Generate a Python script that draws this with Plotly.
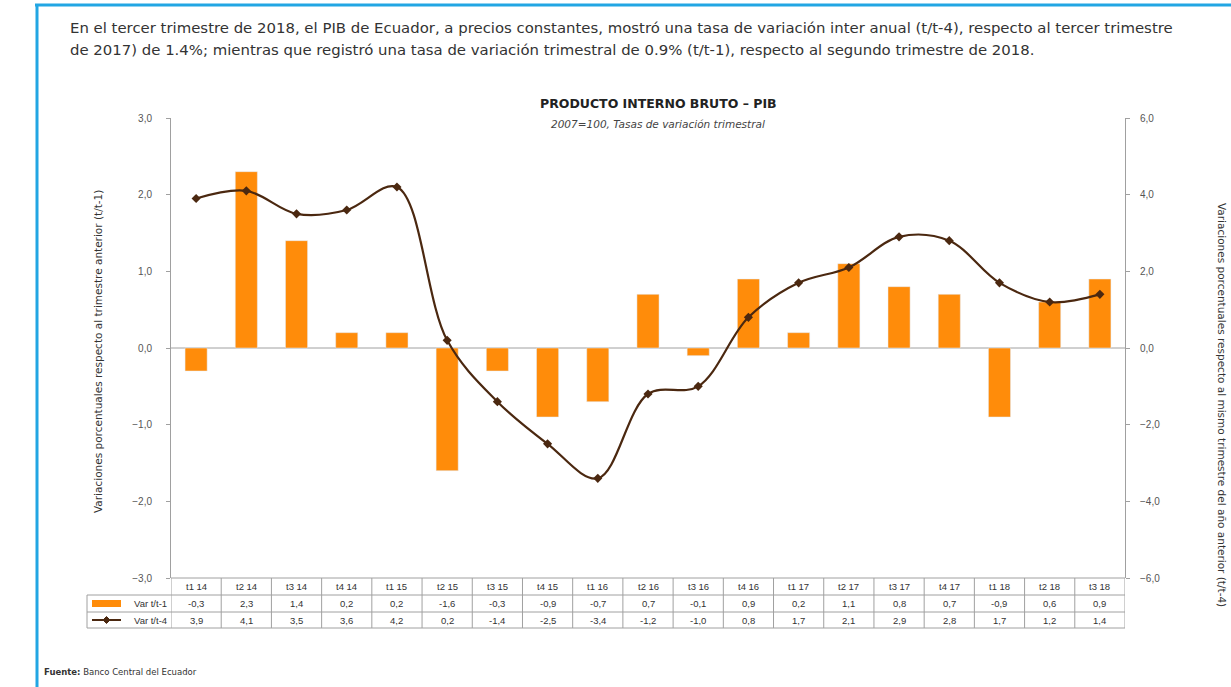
import plotly.graph_objects as go

# ---- data ----
quarters = ["t1 14", "t2 14", "t3 14", "t4 14", "t1 15", "t2 15", "t3 15", "t4 15",
            "t1 16", "t2 16", "t3 16", "t4 16", "t1 17", "t2 17", "t3 17", "t4 17",
            "t1 18", "t2 18", "t3 18"]
var_t1 = [-0.3, 2.3, 1.4, 0.2, 0.2, -1.6, -0.3, -0.9, -0.7, 0.7, -0.1, 0.9,
          0.2, 1.1, 0.8, 0.7, -0.9, 0.6, 0.9]
var_t4 = [3.9, 4.1, 3.5, 3.6, 4.2, 0.2, -1.4, -2.5, -3.4, -1.2, -1.0, 0.8,
          1.7, 2.1, 2.9, 2.8, 1.7, 1.2, 1.4]
left_ticks = [3, 2, 1, 0, -1, -2, -3]
right_ticks = [6, 4, 2, 0, -2, -4, -6]
series_names = ["Var t/t-1", "Var t/t-4"]

# ---- geometry (page pixels; body margin removed in post_script) ----
W, H = 1231, 687
PX0, PX1, PY0, PY1 = 171, 1125, 118, 578   # plot area in page pixels


def px(x):
    return (x - PX0) / (PX1 - PX0)


def py(y):
    return (PY1 - y) / (PY1 - PY0)


ORANGE = "#FF8C0A"
BROWN = "#4B2810"
GRID = "#A0A0A0"
TXT = "#333333"
FONT = "Liberation Sans, Arial, sans-serif"
WIDE = "DejaVu Sans, sans-serif"

fig = go.Figure()
fig.add_trace(go.Bar(x=quarters, y=var_t1, name=series_names[0], marker_color=ORANGE,
                     width=0.44, yaxis="y"))
fig.add_trace(go.Scatter(x=quarters, y=var_t4, name=series_names[1], yaxis="y2",
                         mode="lines+markers",
                         line=dict(color=BROWN, width=2.2, shape="spline", smoothing=1.0),
                         marker=dict(symbol="diamond", size=7, color=BROWN)))

fmt = lambda v: f"{v:.1f}".replace(".", ",")

annotations = []
shapes = []


def note(text, x, y, size, family=WIDE, color=TXT, **kw):
    d = dict(text=text, x=x, y=y, xref="paper", yref="paper", showarrow=False,
             yanchor="middle", font=dict(family=family, size=size, color=color))
    d.update(kw)
    annotations.append(d)


# Top paragraph
para = ["En el tercer trimestre de 2018, el PIB de Ecuador, a precios constantes, mostró una tasa de variación inter anual (t/t-4), respecto al tercer trimestre",
        "de 2017) de 1.4%; mientras que registró una tasa de variación trimestral de 0.9% (t/t-1), respecto al segundo trimestre de 2018."]
for i, line in enumerate(para):
    note(line, px(68), py(28 + 22 * i), 14.9, xanchor="left")

# Chart title
note("<b>PRODUCTO INTERNO BRUTO – PIB</b>", px(658), py(104), 12.5, color="#222")
note("<i>2007=100, Tasas de variación trimestral</i>", px(658), py(124), 10.5, color="#444")

# Axis titles
note("Variaciones porcentuales respecto al trimestre anterior (t/t-1)", px(90), py(352), 10.5,
     textangle=-90)
note("Variaciones porcentuales respecto al mismo trimestre del año anterior (t/t-4)", px(1230),
     py(405), 10.5, textangle=90)

# Footer
note("<b>Fuente:</b> Banco Central del Ecuador", px(42), py(672), 8.5, xanchor="left")

# ---- data table under the chart ----
ROW_Y = [578, 595, 612, 628]
line_style = dict(color=GRID, width=1)
shapes.append(dict(type="line", xref="paper", yref="paper", x0=0, x1=1,
                   y0=py(ROW_Y[0]), y1=py(ROW_Y[0]), line=line_style))
for yy in ROW_Y[1:]:
    shapes.append(dict(type="line", xref="paper", yref="paper", x0=px(87), x1=1,
                       y0=py(yy), y1=py(yy), line=line_style))
n = len(quarters)
for i in range(n + 1):
    shapes.append(dict(type="line", xref="x", yref="paper", x0=i - 0.5, x1=i - 0.5,
                       y0=py(ROW_Y[0]), y1=py(ROW_Y[3]), line=line_style))
shapes.append(dict(type="line", xref="paper", yref="paper", x0=px(87), x1=px(87),
                   y0=py(ROW_Y[1]), y1=py(ROW_Y[3]), line=line_style))

cell_font = dict(family=FONT, size=9.5, color=TXT)
for i, q in enumerate(quarters):
    for r, txt in enumerate([q, fmt(var_t1[i]), fmt(var_t4[i])]):
        annotations.append(dict(text=txt, x=i, y=py((ROW_Y[r] + ROW_Y[r + 1]) / 2), xref="x",
                                yref="paper", yanchor="middle", showarrow=False, font=cell_font))

# legend column
for r, name in enumerate(series_names):
    yc = (ROW_Y[1 + r] + ROW_Y[2 + r]) / 2
    note(name, px(169), py(yc), 9.5, family=FONT, xanchor="right")
yc1 = (ROW_Y[1] + ROW_Y[2]) / 2
shapes.append(dict(type="rect", xref="paper", yref="paper", x0=px(92), x1=px(121),
                   y0=py(yc1 - 3.5), y1=py(yc1 + 3.5), fillcolor=ORANGE, line=dict(width=0)))
yc2 = (ROW_Y[2] + ROW_Y[3]) / 2
shapes.append(dict(type="line", xref="paper", yref="paper", x0=px(92), x1=px(121),
                   y0=py(yc2), y1=py(yc2), line=dict(color=BROWN, width=2)))
cx, a, b = px(106.5), 3.5 / (PX1 - PX0), 3.5 / (PY1 - PY0)
cy = py(yc2)
shapes.append(dict(type="path", xref="paper", yref="paper",
                   path=f"M {cx - a},{cy} L {cx},{cy + b} L {cx + a},{cy} L {cx},{cy - b} Z",
                   fillcolor=BROWN, line=dict(color=BROWN, width=1)))

# zero line
shapes.append(dict(type="line", xref="paper", yref="y", x0=0, x1=1, y0=0, y1=0,
                   line=dict(color=GRID, width=1), layer="below"))

# blue frame
BLUE = "#22A6E3"
shapes.append(dict(type="line", xref="paper", yref="paper", x0=px(35), x1=px(1240),
                   y0=py(5), y1=py(5), line=dict(color=BLUE, width=3)))
shapes.append(dict(type="line", xref="paper", yref="paper", x0=px(37), x1=px(37),
                   y0=py(5), y1=py(700), line=dict(color=BLUE, width=3)))

tick_font = dict(family=FONT, size=10, color="#555")
fig.update_layout(
    width=W, height=H,
    margin=dict(l=PX0, r=W - PX1, t=PY0, b=H - PY1, pad=0),
    plot_bgcolor="white", paper_bgcolor="white",
    separators=",.",
    showlegend=False,
    xaxis=dict(type="category", range=[-0.5, n - 0.5], showticklabels=False, showgrid=False,
               zeroline=False, showline=False, ticks=""),
    yaxis=dict(range=[-3, 3], tickvals=left_ticks, tickformat=".1f", showgrid=False,
               zeroline=False, showline=True, linecolor=GRID, linewidth=1,
               ticks="outside", ticklen=4, tickcolor=GRID, tickfont=tick_font,
               ticklabelstandoff=12),
    yaxis2=dict(range=[-6, 6], tickvals=right_ticks, tickformat=".1f", overlaying="y",
                side="right", showgrid=False, zeroline=False, showline=True, linecolor=GRID,
                linewidth=1, ticks="outside", ticklen=4, tickcolor=GRID, tickfont=tick_font,
                ticklabelstandoff=8),
    annotations=annotations,
    shapes=shapes,
)

fig.write_html("out.html", config={"displayModeBar": False},
               post_script="document.body.style.margin='0';document.body.style.overflow='hidden';")
